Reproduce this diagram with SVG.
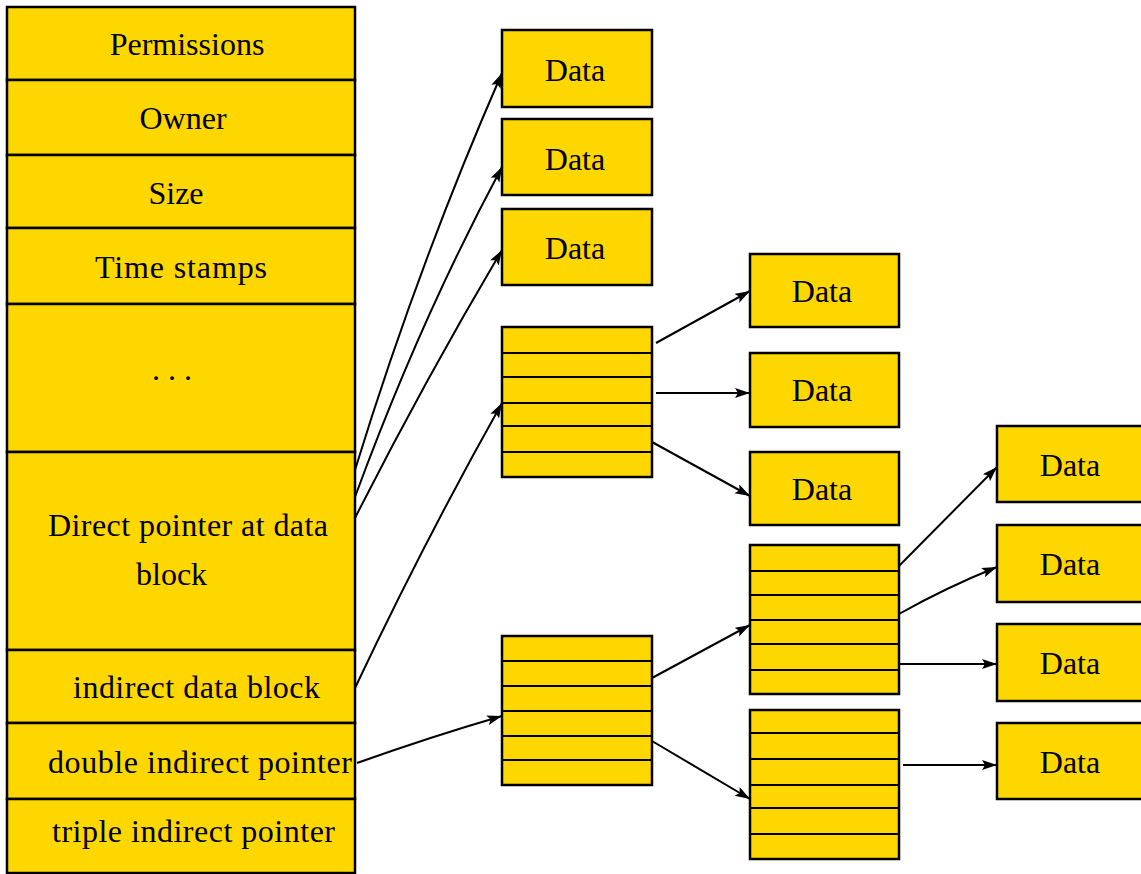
<svg xmlns="http://www.w3.org/2000/svg" width="1141" height="874" viewBox="0 0 1141 874">
<style>
.cell{fill:#FFD700;stroke:#000;stroke-width:2.5}
.div{stroke:#000;stroke-width:2;fill:none}
.t{font-family:"Liberation Serif","Times New Roman",serif;font-size:32px;fill:#000}
.c{text-anchor:middle}
.con{stroke:#000;stroke-width:2;fill:none;marker-end:url(#ah)}
</style>
<defs>
<marker id="ah" markerUnits="userSpaceOnUse" markerWidth="18" markerHeight="12" refX="15" refY="5" orient="auto">
<path d="M0,0 L15,5 L0,10 L3,5 z" fill="#000"/>
</marker>
</defs>
<rect width="1141" height="874" fill="#fff"/>
<g id="inode">
<g id="row-permissions"><rect class="cell" x="7" y="7" width="348" height="73"/><text class="t c" x="187" y="55">Permissions</text></g>
<g id="row-owner"><rect class="cell" x="7" y="80" width="348" height="75"/><text class="t c" x="183" y="129">Owner</text></g>
<g id="row-size"><rect class="cell" x="7" y="155" width="348" height="73"/><text class="t c" x="176" y="204">Size</text></g>
<g id="row-time"><rect class="cell" x="7" y="228" width="348" height="76"/><text class="t c" x="181" y="278" textLength="172">Time stamps</text></g>
<g id="row-dots"><rect class="cell" x="7" y="304" width="348" height="148"/><text class="t c" x="172" y="380">. . .</text></g>
<g id="row-direct"><rect class="cell" x="7" y="452" width="348" height="198"/><text class="t" x="48" y="536" textLength="280">Direct pointer at data</text><text class="t" x="136" y="585">block</text></g>
<g id="row-indirect"><rect class="cell" x="7" y="650" width="348" height="73"/><text class="t" x="73" y="698" textLength="247">indirect data block</text></g>
<g id="row-double"><rect class="cell" x="7" y="723" width="348" height="76"/><text class="t" x="48" y="773" textLength="304">double indirect pointer</text></g>
<g id="row-triple"><rect class="cell" x="7" y="799" width="348" height="74"/><text class="t" x="52" y="842" textLength="283">triple indirect pointer</text></g>
</g>
<g id="data-1"><rect class="cell" x="502" y="30" width="150" height="77"/><text class="t c" x="575" y="81">Data</text></g>
<g id="data-2"><rect class="cell" x="502" y="119" width="150" height="76"/><text class="t c" x="575" y="170">Data</text></g>
<g id="data-3"><rect class="cell" x="502" y="209" width="150" height="76"/><text class="t c" x="575" y="259">Data</text></g>
<g id="indirect-block"><rect class="cell" x="502" y="327" width="150" height="150"/><path class="div" d="M502,353H652M502,377H652M502,403H652M502,426H652M502,452H652"/></g>
<g id="double-block"><rect class="cell" x="502" y="636" width="150" height="149"/><path class="div" d="M502,661H652M502,686H652M502,711H652M502,736H652M502,760H652"/></g>
<g id="data-4"><rect class="cell" x="750" y="254" width="149" height="73"/><text class="t c" x="822" y="302">Data</text></g>
<g id="data-5"><rect class="cell" x="750" y="353" width="149" height="74"/><text class="t c" x="822" y="401">Data</text></g>
<g id="data-6"><rect class="cell" x="750" y="452" width="149" height="73"/><text class="t c" x="822" y="500">Data</text></g>
<g id="second-block-a"><rect class="cell" x="750" y="545" width="149" height="149"/><path class="div" d="M750,571H899M750,595H899M750,620H899M750,644H899M750,670H899"/></g>
<g id="second-block-b"><rect class="cell" x="750" y="710" width="149" height="149"/><path class="div" d="M750,733H899M750,759H899M750,785H899M750,808H899M750,834H899"/></g>
<g id="data-7"><rect class="cell" x="997" y="426" width="150" height="76"/><text class="t c" x="1070" y="476">Data</text></g>
<g id="data-8"><rect class="cell" x="997" y="525" width="150" height="77"/><text class="t c" x="1070" y="575">Data</text></g>
<g id="data-9"><rect class="cell" x="997" y="624" width="150" height="77"/><text class="t c" x="1070" y="674">Data</text></g>
<g id="data-10"><rect class="cell" x="997" y="723" width="150" height="76"/><text class="t c" x="1070" y="773">Data</text></g>
<g id="connectors">
<path class="con" d="M355,470 Q418,265 502,73"/>
<path class="con" d="M355,497 Q420,320 502,167"/>
<path class="con" d="M355,518 Q425,380 502,250"/>
<path class="con" d="M355,688 Q425,540 502,403"/>
<path class="con" d="M357,763 Q430,737 502,716"/>
<path class="con" d="M656,343 L750,291"/>
<path class="con" d="M656,393 L750,393"/>
<path class="con" d="M652,442 L750,496"/>
<path class="con" d="M652,678 L750,625"/>
<path class="con" d="M652,741 L750,799"/>
<path class="con" d="M899,566 L997,467"/>
<path class="con" d="M899,614 Q945,588 997,567"/>
<path class="con" d="M899,664 L997,664"/>
<path class="con" d="M903,765 L997,765"/>
</g>
</svg>
